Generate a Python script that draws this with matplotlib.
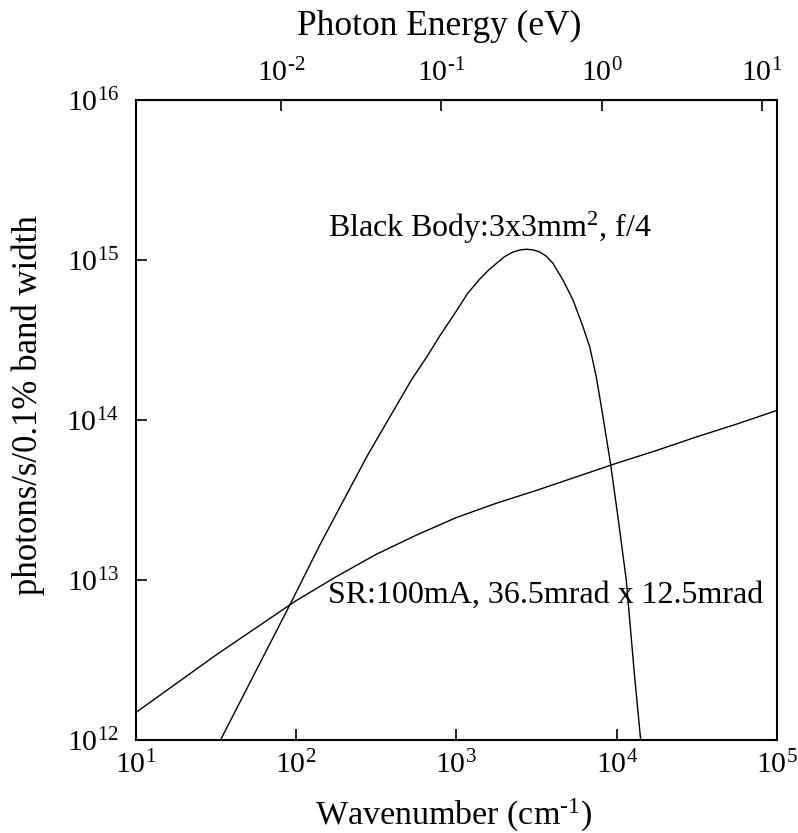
import matplotlib
matplotlib.use("Agg")
import matplotlib.pyplot as plt
from matplotlib.ticker import FixedLocator, NullLocator, FuncFormatter
import numpy as np

plt.rcParams['font.family'] = 'Liberation Serif'
plt.rcParams['mathtext.fontset'] = 'custom'
plt.rcParams['mathtext.rm'] = 'Liberation Serif'
plt.rcParams['mathtext.it'] = 'Liberation Serif'

# Synchrotron radiation (log10 wavenumber, log10 photons/s/0.1%bw)
sr_logx = [1.0, 1.125, 1.25, 1.375, 1.5, 1.625, 1.75, 1.875, 2.0, 2.125, 2.25, 2.375, 2.5, 2.625,
           2.75, 2.875, 3.0, 3.125, 3.25, 3.375, 3.5, 3.75, 4.0, 4.25, 4.5, 4.75, 5.0]
sr_logy = [12.17, 12.26, 12.35, 12.44, 12.53, 12.615, 12.70, 12.785, 12.87, 12.945, 13.02, 13.09,
           13.16, 13.22, 13.28, 13.335, 13.39, 13.435, 13.48, 13.52, 13.56, 13.645, 13.73, 13.81,
           13.895, 13.975, 14.06]

# Black body 3x3 mm^2, f/4
bb_logx = [1.53, 1.75, 1.96, 2.15, 2.33, 2.45, 2.575, 2.72, 2.82, 2.90, 3.0, 3.07, 3.146, 3.2,
           3.25, 3.3, 3.354, 3.40, 3.437, 3.48, 3.52, 3.56, 3.603, 3.665, 3.728, 3.79, 3.832,
           3.873, 3.915, 3.963, 4.01, 4.06, 4.11, 4.15]
bb_logy = [12.0, 12.43, 12.84, 13.22, 13.56, 13.785, 14.0, 14.25, 14.40, 14.53, 14.68, 14.79,
           14.88, 14.935, 14.978, 15.02, 15.05, 15.063, 15.067, 15.063, 15.05, 15.025, 14.979,
           14.875, 14.75, 14.583, 14.458, 14.27, 14.02, 13.72, 13.38, 13.0, 12.42, 12.0]

x_ticks = [1e1, 1e2, 1e3, 1e4, 1e5]
y_ticks = [1e12, 1e13, 1e14, 1e15, 1e16]
ev_ticks = [1e-2, 1e-1, 1e0, 1e1]
CM_PER_EV = 8065.54


def pow10(v, pos=None):
    e = int(round(np.log10(v)))
    if e < 0:
        return r'$\mathregular{10^{\text{-}%d}}$' % (-e)
    return r'$\mathregular{10^{%d}}$' % e


fig = plt.figure(figsize=(7.98, 8.33), dpi=100)
ax = fig.add_axes([0.1698, 0.1116, 0.8039, 0.7684])

ax.plot(10 ** np.array(sr_logx), 10 ** np.array(sr_logy), color='black', lw=1.0)
ax.plot(10 ** np.array(bb_logx), 10 ** np.array(bb_logy), color='black', lw=1.0)

ax.set_xscale('log')
ax.set_yscale('log')
ax.set_xlim(1e1, 1e5)
ax.set_ylim(1e12, 1e16)

ax.xaxis.set_major_locator(FixedLocator(x_ticks))
ax.yaxis.set_major_locator(FixedLocator(y_ticks))
ax.xaxis.set_minor_locator(NullLocator())
ax.yaxis.set_minor_locator(NullLocator())
ax.xaxis.set_major_formatter(FuncFormatter(pow10))
ax.yaxis.set_major_formatter(FuncFormatter(pow10))
ax.tick_params(direction='in', length=8, width=1.2, labelsize=21.5)
ax.tick_params(axis='x', pad=8)
ax.tick_params(axis='y', pad=12)

for s in ax.spines.values():
    s.set_linewidth(1.5)

sec = ax.secondary_xaxis('top', functions=(lambda w: w / CM_PER_EV, lambda e: e * CM_PER_EV))
sec.xaxis.set_major_locator(FixedLocator(ev_ticks))
sec.xaxis.set_minor_locator(NullLocator())
sec.xaxis.set_major_formatter(FuncFormatter(pow10))
sec.tick_params(direction='in', length=8, width=1.2, labelsize=21.5, pad=9)

# top axis title
fig.text(0.5508, 0.958, 'Photon Energy (eV)', fontsize=25.5, ha='center', va='baseline')

ax.set_xlabel(r'Wavenumber (cm$^{\mathregular{\text{-}1}}$)', fontsize=24.5, va='baseline')
ax.xaxis.set_label_coords(0.4965, -0.133)
ax.set_ylabel('photons/s/0.1% band width', fontsize=25, va='baseline')
ax.yaxis.set_label_coords(-0.1535, 0.523)

ax.text(158.5, 10 ** 15.146, r'Black Body:3x3mm$^{\mathregular{2}}$, f/4', fontsize=23, va='baseline')
ax.text(158.5, 10 ** 12.856, 'SR:100mA, 36.5mrad x 12.5mrad', fontsize=23, va='baseline')

fig.savefig('out.png', dpi=100)
